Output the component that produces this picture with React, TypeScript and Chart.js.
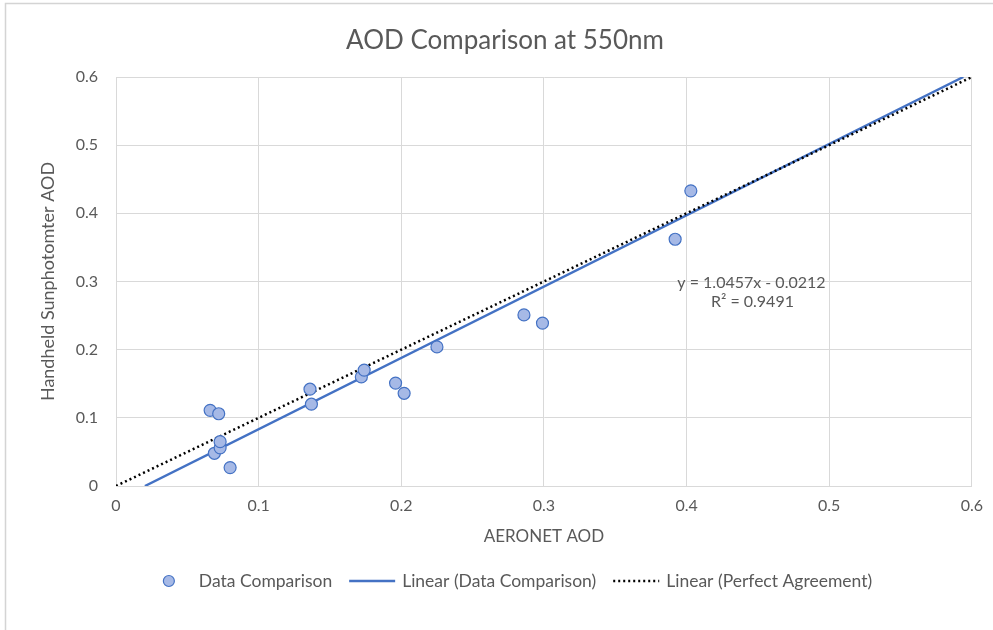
import React, { useEffect, useRef } from 'react';
import { Chart, registerables } from 'chart.js';

Chart.register(...registerables);

// ---- data ----
const aeronetAOD = [0.066, 0.072, 0.069, 0.073, 0.073, 0.080, 0.136, 0.137, 0.172, 0.174, 0.196, 0.202, 0.225, 0.286, 0.299, 0.392, 0.403];
const handheldAOD = [0.111, 0.106, 0.048, 0.056, 0.065, 0.027, 0.142, 0.120, 0.160, 0.170, 0.151, 0.136, 0.204, 0.251, 0.239, 0.362, 0.433];
const fitSlope = 1.0457;
const fitIntercept = -0.0212;
const fitR2 = 0.9491;
const axisMin = 0;
const axisMax = 0.6;
const tickStep = 0.1;
const chartTitle = 'AOD Comparison at 550nm';
const xAxisTitle = 'AERONET AOD';
const yAxisTitle = 'Handheld Sunphotomter AOD';
const seriesNames = ['Data Comparison', 'Linear (Data Comparison)', 'Linear (Perfect Agreement)'];
const equationText = `y = ${fitSlope}x - ${Math.abs(fitIntercept)}`;
const r2Text = `R² = ${fitR2}`;

const FONT = 'Lato, "Open Sans", sans-serif';
const TEXT = '#595959';
const BLUE = '#4472c4';
const FILL = '#a6b9e6';
const GRID = '#d9d9d9';

// trendline clipped to the axes box
const fitX0 = Math.max(axisMin, (axisMin - fitIntercept) / fitSlope);
const fitX1 = Math.min(axisMax, (axisMax - fitIntercept) / fitSlope);
const fitLine = [
  { x: fitX0, y: fitSlope * fitX0 + fitIntercept },
  { x: fitX1, y: fitSlope * fitX1 + fitIntercept },
];
const perfectLine = [
  { x: axisMin, y: axisMin },
  { x: axisMax, y: axisMax },
];

const decorPlugin = {
  id: 'decor',
  beforeDraw(chart: any) {
    const ctx = chart.ctx;
    ctx.save();
    ctx.fillStyle = '#ffffff';
    ctx.fillRect(0, 0, chart.width, chart.height);
    ctx.strokeStyle = '#d4d4d4';
    ctx.lineWidth = 1.5;
    ctx.beginPath();
    ctx.moveTo(5.5, chart.height);
    ctx.lineTo(5.5, 3.5);
    ctx.lineTo(chart.width, 3.5);
    ctx.stroke();
    ctx.restore();
  },
  afterDraw(chart: any) {
    const ctx = chart.ctx;
    const xs = chart.scales.x;
    const ys = chart.scales.y;
    const area = chart.chartArea;
    ctx.save();
    ctx.fillStyle = TEXT;
    ctx.textAlign = 'center';
    ctx.textBaseline = 'middle';

    // title
    ctx.font = `26px ${FONT}`;
    ctx.fillText(chartTitle, 505, 41);

    // axis titles
    ctx.font = `17px ${FONT}`;
    ctx.fillText(xAxisTitle, (area.left + area.right) / 2, 537);
    ctx.save();
    ctx.font = `18px ${FONT}`;
    ctx.translate(48, (area.top + area.bottom) / 2);
    ctx.rotate(-Math.PI / 2);
    ctx.fillText(yAxisTitle, 0, 0);
    ctx.restore();

    // equation annotation
    ctx.font = `16px ${FONT}`;
    const ax = xs.getPixelForValue(0.4455);
    const ay = ys.getPixelForValue(0.298);
    ctx.fillText(equationText, ax, ay);
    ctx.fillText(r2Text, ax + 1, ay + 19);

    // legend
    ctx.font = `17.5px ${FONT}`;
    const boxW = 46;
    const gapIn = 7;
    const gapOut = 17;
    const widths = seriesNames.map((s) => ctx.measureText(s).width);
    const total = widths.reduce((a, w) => a + boxW + gapIn + w, 0) + gapOut * (seriesNames.length - 1);
    let x = 509 - total / 2;
    const ly = 581;
    seriesNames.forEach((name, i) => {
      if (i === 0) {
        ctx.beginPath();
        ctx.arc(x + boxW / 2, ly, 5.5, 0, Math.PI * 2);
        ctx.fillStyle = FILL;
        ctx.fill();
        ctx.strokeStyle = BLUE;
        ctx.lineWidth = 1.2;
        ctx.stroke();
      } else if (i === 1) {
        ctx.beginPath();
        ctx.moveTo(x, ly);
        ctx.lineTo(x + boxW, ly);
        ctx.strokeStyle = BLUE;
        ctx.lineWidth = 2.5;
        ctx.setLineDash([]);
        ctx.stroke();
      } else {
        ctx.beginPath();
        ctx.moveTo(x, ly);
        ctx.lineTo(x + boxW, ly);
        ctx.strokeStyle = '#000000';
        ctx.lineWidth = 2.5;
        ctx.setLineDash([2, 3]);
        ctx.stroke();
        ctx.setLineDash([]);
      }
      ctx.fillStyle = TEXT;
      ctx.textAlign = 'left';
      ctx.fillText(name, x + boxW + gapIn, ly);
      x += boxW + gapIn + widths[i] + gapOut;
    });
    ctx.restore();
  },
};

export default function App() {
  const ref = useRef<HTMLCanvasElement | null>(null);

  useEffect(() => {
    document.body.style.margin = '0';
    const canvas = ref.current;
    if (!canvas) return;
    const tickCfg = {
      stepSize: tickStep,
      color: TEXT,
      font: { family: FONT, size: 16 },
      callback: (v: any) => (Number(v) === 0 ? '0' : Number(v).toFixed(1)),
    };
    const chart = new Chart(canvas, {
      type: 'scatter',
      data: {
        datasets: [
          {
            label: seriesNames[0],
            data: aeronetAOD.map((x, i) => ({ x, y: handheldAOD[i] })),
            pointRadius: 6,
            pointBackgroundColor: FILL,
            pointBorderColor: BLUE,
            pointBorderWidth: 1.2,
            showLine: false,
            order: 0,
          },
          {
            label: seriesNames[1],
            data: fitLine,
            showLine: true,
            borderColor: BLUE,
            borderWidth: 2.5,
            pointRadius: 0,
            order: 2,
          },
          {
            label: seriesNames[2],
            data: perfectLine,
            showLine: true,
            borderColor: '#000000',
            borderWidth: 2.5,
            borderDash: [2, 3],
            pointRadius: 0,
            order: 1,
          },
        ],
      },
      options: {
        responsive: false,
        animation: false,
        events: [],
        layout: { padding: { top: 77, right: 18, bottom: 104, left: 0 } },
        plugins: {
          legend: { display: false },
          title: { display: false },
          tooltip: { enabled: false },
        },
        scales: {
          x: {
            type: 'linear',
            min: axisMin,
            max: axisMax,
            ticks: { ...tickCfg, padding: 10 },
            grid: { color: GRID, lineWidth: 1, drawTicks: false },
            border: { color: GRID },
            afterFit: (s: any) => {
              s.height = 40;
            },
          },
          y: {
            type: 'linear',
            min: axisMin,
            max: axisMax,
            ticks: { ...tickCfg, padding: 18 },
            grid: { color: GRID, lineWidth: 1, drawTicks: false },
            border: { color: GRID },
            afterFit: (s: any) => {
              s.width = 116;
            },
          },
        },
      },
      plugins: [decorPlugin],
    } as any);
    return () => chart.destroy();
  }, []);

  return (
    <div style={{ position: 'absolute', left: 0, top: 0, width: 993, height: 630, background: '#fff' }}>
      <canvas ref={ref} width={993} height={630} style={{ display: 'block' }} />
    </div>
  );
}
